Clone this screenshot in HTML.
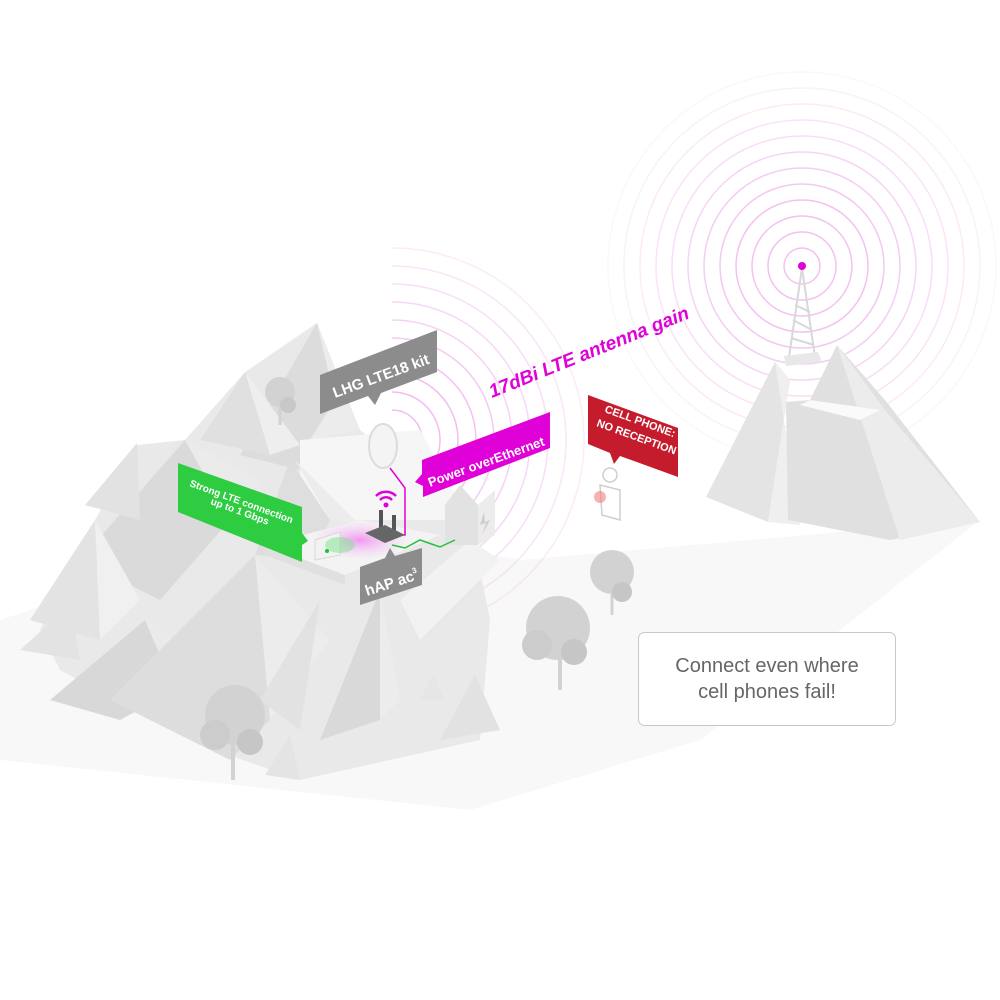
<!DOCTYPE html>
<html><head><meta charset="utf-8"><style>
html,body{margin:0;padding:0;background:#fff;}
svg{display:block;}
text{font-family:"Liberation Sans",sans-serif;}
</style></head><body>
<svg width="1000" height="1000" viewBox="0 0 1000 1000" xmlns="http://www.w3.org/2000/svg">
<defs>
<radialGradient id="pinkg" cx="0.5" cy="0.5" r="0.5"><stop offset="0" stop-color="#f07ef0"/><stop offset="1" stop-color="#f7d3f7" stop-opacity="0.2"/></radialGradient>
</defs>
<polygon points="0,620 300,520 520,560 980,520 700,740 470,810 0,760" fill="#f8f8f8"/>

<g fill="none" stroke="#f3c2f0" stroke-width="1.5">
<circle cx="802" cy="266" r="18"/><circle cx="802" cy="266" r="34"/><circle cx="802" cy="266" r="50"/><circle cx="802" cy="266" r="66"/><circle cx="802" cy="266" r="82" opacity="0.9"/><circle cx="802" cy="266" r="98" opacity="0.8"/><circle cx="802" cy="266" r="114" opacity="0.7"/><circle cx="802" cy="266" r="130" opacity="0.55"/><circle cx="802" cy="266" r="146" opacity="0.45"/><circle cx="802" cy="266" r="162" opacity="0.35"/><circle cx="802" cy="266" r="178" opacity="0.25"/><circle cx="802" cy="266" r="194" opacity="0.15"/>
</g>
<g fill="none" stroke="#f3bdf0" stroke-width="1.5">
<path d="M392,410 A30,30 0 0 1 392,470"/>
<path d="M392,392 A48,48 0 0 1 392,488"/>
<path d="M392,374 A66,66 0 0 1 392,506"/>
<path d="M392,356 A84,84 0 0 1 392,524" opacity="0.9"/>
<path d="M392,338 A102,102 0 0 1 392,542" opacity="0.8"/>
<path d="M392,320 A120,120 0 0 1 392,560" opacity="0.7"/>
<path d="M392,302 A138,138 0 0 1 392,578" opacity="0.6"/>
<path d="M392,284 A156,156 0 0 1 392,596" opacity="0.5"/>
<path d="M392,266 A174,174 0 0 1 392,614" opacity="0.4"/>
<path d="M392,248 A192,192 0 0 1 392,632" opacity="0.3"/>
</g>

<polygon points="775,362 706,497 768,522 790,380" fill="#e4e4e4"/>
<polygon points="775,362 790,380 768,522 800,525" fill="#efefef"/>
<polygon points="837,345 810,400 786,402 788,520 890,540 980,522 885,400" fill="#e0e0e0"/>
<polygon points="837,345 885,410 980,522 900,540" fill="#ececec"/>
<polygon points="810,400 880,410 860,420 800,405" fill="#fafafa"/>
<g stroke="#d8d8d8" stroke-width="2" fill="none">
<line x1="802" y1="268" x2="789" y2="357"/><line x1="802" y1="268" x2="815" y2="357"/>
<line x1="793" y1="320" x2="812" y2="330"/><line x1="795" y1="305" x2="810" y2="312"/><line x1="791" y1="338" x2="814" y2="345"/>
</g>
<polygon points="784,356 818,352 822,362 786,366" fill="#e8e8e8"/>
<circle cx="802" cy="266" r="4" fill="#e000d8"/>

<polygon points="40,630 95,520 137,445 185,440 245,372 317,323 360,430 470,520 490,620 480,740 300,780 200,745 60,670" fill="#e9e9e9"/>
<g>
<polygon points="317,323 240,455 300,470 335,400" fill="#dcdcdc"/>
<polygon points="317,323 335,400 310,440 360,430" fill="#ececec"/>
<polygon points="245,372 200,440 270,455" fill="#e0e0e0"/>
<polygon points="245,372 270,455 300,445" fill="#eeeeee"/>
<polygon points="185,440 80,560 160,600 230,520" fill="#dadada"/>
<polygon points="185,440 230,520 260,480" fill="#ebebeb"/>
<polygon points="137,443 85,505 140,520" fill="#e2e2e2"/>
<polygon points="300,440 420,430 470,520 300,520" fill="#f6f6f6"/>
<polygon points="290,460 255,555 310,560 330,520" fill="#dedede"/>
<polygon points="295,460 330,520 360,525 320,485" fill="#ececec"/>
<polygon points="145,620 50,700 120,720 175,690" fill="#d8d8d8"/>
<polygon points="145,620 175,690 210,660" fill="#eaeaea"/>
<polygon points="255,555 110,700 230,760 270,720" fill="#dddddd"/>
<polygon points="255,555 270,720 330,640" fill="#ececec"/>
<polygon points="95,520 30,620 100,640" fill="#e3e3e3"/>
<polygon points="95,520 100,640 140,600" fill="#f0f0f0"/>
<polygon points="380,590 320,740 380,720" fill="#d9d9d9"/>
<polygon points="380,590 380,720 400,700" fill="#ececec"/>
<polygon points="320,600 260,700 300,730" fill="#e2e2e2"/>
<polygon points="70,605 20,650 80,660" fill="#e3e3e3"/>
<polygon points="475,675 440,740 500,730" fill="#e2e2e2"/>
<polygon points="433,675 420,700 445,700" fill="#e6e6e6"/>
<polygon points="290,735 265,775 300,780" fill="#e4e4e4"/>
<polygon points="400,600 420,640 500,560 470,540" fill="#f2f2f2"/>
</g>
<polygon points="265,545 360,520 440,535 345,575" fill="#f3f3f3"/>
<polygon points="265,545 345,575 345,585 265,555" fill="#e0e0e0"/>

<g fill="#d2d2d2">
<line x1="280" y1="395" x2="280" y2="425" stroke="#d2d2d2" stroke-width="3"/>
<circle cx="280" cy="392" r="15"/><circle cx="288" cy="405" r="8" fill="#c8c8c8"/>
<line x1="612" y1="580" x2="612" y2="615" stroke="#d2d2d2" stroke-width="3"/>
<circle cx="612" cy="572" r="22"/><circle cx="622" cy="592" r="10" fill="#c6c6c6"/>
<line x1="560" y1="640" x2="560" y2="690" stroke="#d2d2d2" stroke-width="4"/>
<circle cx="558" cy="628" r="32"/><circle cx="574" cy="652" r="13" fill="#c6c6c6"/><circle cx="537" cy="645" r="15" fill="#cccccc"/>
<line x1="233" y1="730" x2="233" y2="780" stroke="#d2d2d2" stroke-width="4"/>
<circle cx="235" cy="715" r="30"/><circle cx="250" cy="742" r="13" fill="#c6c6c6"/><circle cx="215" cy="735" r="15" fill="#cccccc"/>
</g>

<polygon points="445,505 460,485 478,505 478,545 445,545" fill="#e2e2e2"/>
<polygon points="478,505 495,490 495,535 478,545" fill="#ececec"/>
<polygon points="484,512 480,525 486,523 482,535 490,520 485,522" fill="#cfcfcf"/>

<ellipse cx="383" cy="446" rx="14" ry="22" fill="#f4f4f4" stroke="#dcdcdc" stroke-width="2"/>
<polyline points="390,468 405,488 405,535 400,535" fill="none" stroke="#e000d8" stroke-width="1.5"/>
<ellipse cx="360" cy="540" rx="45" ry="18" fill="url(#pinkg)" opacity="0.8"/>
<rect x="379" y="510" width="4" height="24" fill="#555"/><rect x="392" y="515" width="4" height="22" fill="#555"/>
<polygon points="365,533 385,525 405,535 385,543" fill="#666"/>
<path d="M380,500 a8,8 0 0 1 12,0 M376,496 a14,14 0 0 1 20,0" stroke="#e000d8" stroke-width="2.5" fill="none"/>
<circle cx="386" cy="505" r="2.5" fill="#e000d8"/>
<polyline points="392,545 405,548 420,540 440,547 455,540" fill="none" stroke="#22c03a" stroke-width="1.5"/>
<polygon points="315,540 340,532 340,555 315,560" fill="#f2f2f2" stroke="#d8d8d8"/>
<ellipse cx="340" cy="545" rx="15" ry="8" fill="#7ee28e" opacity="0.5"/>
<circle cx="327" cy="551" r="2" fill="#22c03a"/>

<circle cx="610" cy="475" r="7" fill="#fff" stroke="#cfcfcf" stroke-width="1.5"/>
<polygon points="600,485 620,490 620,520 602,515" fill="#fff" stroke="#cfcfcf" stroke-width="1.5"/>
<circle cx="600" cy="497" r="6" fill="#f08080" opacity="0.6"/>

<polygon points="320,375 437,330 437,372 381,393 375,405 368,396 320,414" fill="#8c8c8c"/>
<text transform="translate(335,398) rotate(-20)" font-size="15" font-weight="bold" fill="#fff">LHG LTE18 kit</text>

<polygon points="422,460 550,412 550,448 423,497 423,486 415,482 422,474" fill="#e000d8"/>
<text transform="translate(430,487) rotate(-20)" font-size="13" font-weight="bold" fill="#fff">Power overEthernet</text>

<text transform="translate(492,398) rotate(-22)" font-size="19" font-weight="bold" font-style="italic" fill="#e000d8">17dBi LTE antenna gain</text>

<polygon points="588,395 678,428 678,477 620,456 614,464 610,453 588,444" fill="#c41c2c"/>
<text transform="translate(604,412) rotate(20)" font-size="11" font-weight="bold" fill="#fff">CELL PHONE:</text>
<text transform="translate(596,426) rotate(20)" font-size="11" font-weight="bold" fill="#fff">NO RECEPTION</text>

<polygon points="178,463 302,507 302,533 308,541 302,545 302,562 178,512" fill="#2ecc40"/>
<text transform="translate(189,486) rotate(20)" font-size="10" font-weight="bold" fill="#fff">Strong LTE connection</text>
<text transform="translate(210,504) rotate(20)" font-size="10" font-weight="bold" fill="#fff">up to 1 Gbps</text>

<polygon points="360,567 385,558 390,548 395,556 422,548 422,585 360,605" fill="#8c8c8c"/>
<text transform="translate(367,596) rotate(-18)" font-size="15" font-weight="bold" fill="#fff">hAP ac<tspan font-size="8" dy="-7">3</tspan></text>

<rect x="638.5" y="632.5" width="257" height="93" rx="6" fill="#fff" stroke="#c8c8c8" stroke-width="1"/>
<text x="767" y="672" font-size="20" fill="#666" text-anchor="middle">Connect even where</text>
<text x="767" y="698" font-size="20" fill="#666" text-anchor="middle">cell phones fail!</text>
</svg>
</body></html>
